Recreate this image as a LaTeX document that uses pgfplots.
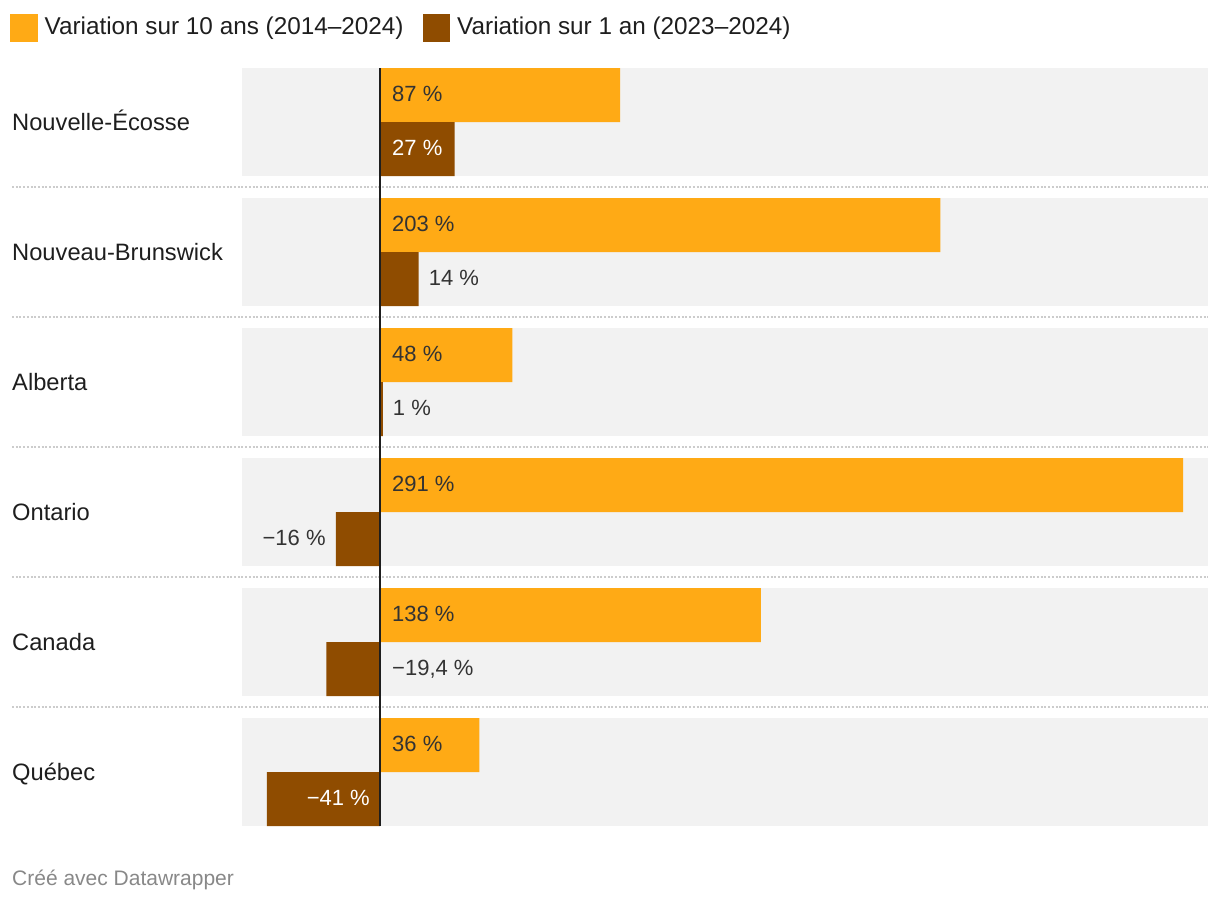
\documentclass[border=0pt]{standalone}
\usepackage{pgfplots}
\pgfplotsset{compat=1.18}
\usepackage{fontspec}
\setmainfont{Liberation Sans}
\definecolor{orng}{HTML}{FFAA15}
\definecolor{brwn}{HTML}{8F4C00}
\definecolor{band}{HTML}{F2F2F2}
\definecolor{txt}{HTML}{333333}
\definecolor{lbl}{HTML}{1E1E1E}
\definecolor{sep}{HTML}{CCCCCC}
\definecolor{foot}{HTML}{888888}
\begin{document}
\begin{tikzpicture}
\path[use as bounding box] (0,0) rectangle (1220pt,-904pt);
\begin{axis}[
  at={(242pt,-826pt)}, anchor=south west,
  width=966pt, height=758pt, scale only axis,
  xmin=-50, xmax=300, ymin=68, ymax=826, y dir=reverse,
  clip=false,
  axis line style={draw=none}, tick style={draw=none},
  xtick=\empty,
  ytick={122,252,382,512,642,772},
  yticklabels={Nouvelle-Écosse,Nouveau-Brunswick,Alberta,Ontario,Canada,Québec},
  yticklabel style={anchor=base west, xshift=-230pt, yshift=-8pt, inner sep=0pt, font=\fontsize{23.7}{28}\selectfont, text=lbl},
  legend columns=2,
  legend cell align=left,
  legend image code/.code={\fill[#1] (0pt,-15.2pt) rectangle (27.7pt,12.5pt);},
  legend style={at={(axis description cs:-0.2402,1.0712)}, anchor=north west,
    draw=none, fill=none, inner sep=0pt, outer sep=0pt,
    nodes={inner sep=0pt, text=lbl}, column sep=7pt,
    font=\fontsize{24.3}{28}\selectfont,
    /tikz/every even column/.append style={column sep=19pt}},
]
\fill[band] (axis cs:-50,68) rectangle (axis cs:300,176);
\fill[band] (axis cs:-50,198) rectangle (axis cs:300,306);
\fill[band] (axis cs:-50,328) rectangle (axis cs:300,436);
\fill[band] (axis cs:-50,458) rectangle (axis cs:300,566);
\fill[band] (axis cs:-50,588) rectangle (axis cs:300,696);
\fill[band] (axis cs:-50,718) rectangle (axis cs:300,826);
\draw[sep, line width=1.5pt, dash pattern=on 2pt off 1.7pt] (axis cs:-133.3,187) -- (axis cs:300,187);
\draw[sep, line width=1.5pt, dash pattern=on 2pt off 1.7pt] (axis cs:-133.3,317) -- (axis cs:300,317);
\draw[sep, line width=1.5pt, dash pattern=on 2pt off 1.7pt] (axis cs:-133.3,447) -- (axis cs:300,447);
\draw[sep, line width=1.5pt, dash pattern=on 2pt off 1.7pt] (axis cs:-133.3,577) -- (axis cs:300,577);
\draw[sep, line width=1.5pt, dash pattern=on 2pt off 1.7pt] (axis cs:-133.3,707) -- (axis cs:300,707);

\addplot[xbar, bar width=54, bar shift=0pt, fill=orng, draw=none]
  coordinates {(87,95) (203,225) (48,355) (291,485) (138,615) (36,745)};
\addlegendentry{Variation sur 10 ans (2014–2024)}
\addplot[xbar, bar width=54, bar shift=0pt, fill=brwn, draw=none]
  coordinates {(27,149) (14,279) (1,409) (-16,539) (-19.4,669) (-41,799)};
\addlegendentry{Variation sur 1 an (2023–2024)}

\addplot[forget plot, color=lbl, line width=2pt] coordinates {(0,68) (0,826)};

\addplot[forget plot, only marks, mark=none, point meta=explicit symbolic, nodes near coords,
  nodes near coords style={anchor=base west, xshift=12pt, yshift=-6.7pt, inner sep=0pt, text=txt, font=\fontsize{22}{26}\selectfont}]
  coordinates {(0,95) [87 \%] (0,225) [203 \%] (0,355) [48 \%] (0,485) [291 \%] (0,615) [138 \%] (0,745) [36 \%] (0,669) [−19,4 \%]};
\addplot[forget plot, only marks, mark=none, point meta=explicit symbolic, nodes near coords,
  nodes near coords style={anchor=base west, xshift=10pt, yshift=-6.7pt, inner sep=0pt, text=txt, font=\fontsize{22}{26}\selectfont}]
  coordinates {(14,279) [14 \%] (1,409) [1 \%]};
\addplot[forget plot, only marks, mark=none, point meta=explicit symbolic, nodes near coords,
  nodes near coords style={anchor=base west, xshift=12pt, yshift=-6.7pt, inner sep=0pt, text=white, font=\fontsize{22}{26}\selectfont}]
  coordinates {(0,149) [27 \%]};
\addplot[forget plot, only marks, mark=none, point meta=explicit symbolic, nodes near coords,
  nodes near coords style={anchor=base east, xshift=-10pt, yshift=-6.7pt, inner sep=0pt, text=txt, font=\fontsize{22}{26}\selectfont}]
  coordinates {(-16,539) [−16 \%]};
\addplot[forget plot, only marks, mark=none, point meta=explicit symbolic, nodes near coords,
  nodes near coords style={anchor=base east, xshift=-10pt, yshift=-6.7pt, inner sep=0pt, text=white, font=\fontsize{22}{26}\selectfont}]
  coordinates {(0,799) [−41 \%]};
\end{axis}
\node[anchor=base west, inner sep=0pt, text=foot, font=\fontsize{21}{25}\selectfont] at (12pt,-885pt) {Créé avec Datawrapper};
\end{tikzpicture}
\end{document}
